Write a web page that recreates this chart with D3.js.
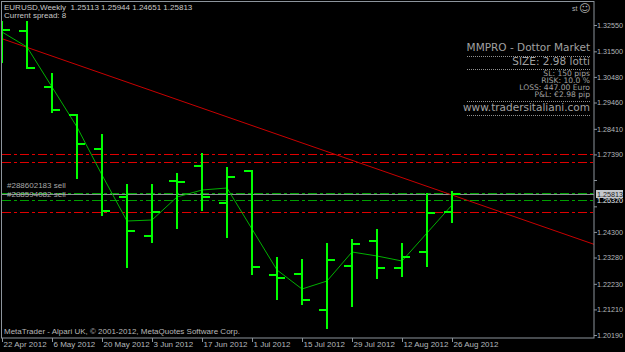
<!DOCTYPE html>
<html>
<head>
<meta charset="utf-8">
<script src="https://cdn.jsdelivr.net/npm/d3@7"></script>
<style>
html, body { margin: 0; padding: 0; background: #000; }
svg { display: block; font-family: "Liberation Sans", Arial, sans-serif; }
</style>
</head>
<body>
<svg id="chart" width="625" height="352"></svg>
<script>
// weekly EURUSD bars
const weeks = ["22 Apr 2012", "29 Apr 2012", "6 May 2012", "13 May 2012", "20 May 2012",
    "27 May 2012", "3 Jun 2012", "10 Jun 2012", "17 Jun 2012", "24 Jun 2012", "1 Jul 2012",
    "8 Jul 2012", "15 Jul 2012", "22 Jul 2012", "29 Jul 2012", "5 Aug 2012", "12 Aug 2012",
    "19 Aug 2012", "26 Aug 2012"];
const openP  = [1.31753, 1.32311, 1.30078, 1.28962, 1.27606, 1.25692, 1.24137, 1.26330, 1.26928, 1.25453,
    1.26729, 1.22582, 1.22622, 1.21187, 1.22941, 1.23938, 1.22861, 1.23499, 1.25113];
const highP  = [1.32709, 1.32709, 1.30636, 1.29002, 1.28204, 1.26211, 1.26211, 1.26649, 1.27447, 1.26888,
    1.26769, 1.23300, 1.23220, 1.23858, 1.24018, 1.24416, 1.23858, 1.25852, 1.25944];
const lowP   = [1.31035, 1.30796, 1.29041, 1.26410, 1.24935, 1.22861, 1.23858, 1.24416, 1.25134, 1.24057,
    1.22582, 1.21585, 1.21386, 1.20429, 1.21306, 1.22423, 1.22503, 1.22901, 1.24651];
const closeP = [1.32351, 1.30836, 1.29161, 1.27805, 1.25134, 1.24337, 1.25094, 1.26290, 1.25692, 1.26490,
    1.22901, 1.22463, 1.21585, 1.23180, 1.23818, 1.22861, 1.23300, 1.25054, 1.25813];
// thin green indicator line
const lineValues = [1.32271, 1.31673, 1.30078, 1.28483, 1.26569, 1.24735, 1.24775, 1.25692, 1.25971, 1.26051,
    1.24416, 1.22782, 1.22024, 1.22343, 1.23499, 1.23340, 1.23140, 1.24257, 1.25373];
// trendline anchors: [bar index, price]
const trendA = [0, 1.32004];
const trendB = [18, 1.25772];
const redLevels = [1.27387, 1.27068, 1.25082];
const greenLevels = [1.25864, 1.25584];
const orderLabels = ["#288602183 sell", "#288594082 sell"];
const priceTicks = [1.20190, 1.21210, 1.22230, 1.23280, 1.24300, 1.25320, 1.26370,
    1.27390, 1.28410, 1.29460, 1.30480, 1.31500, 1.32550];
const infoBig = ["MMPRO - Dottor Market", "SIZE: 2.98 lotti"];
const infoSmall = ["SL: 150 pips", "RISK: 10.0 %", "LOSS: 447.00 Euro", "P&L: \u20ac2.98 pip"];
const infoSite = "www.tradersitaliani.com";

const svg = d3.select("#chart");
const plot = {left: 2, right: 594, top: 2, bottom: 338};

const x = d3.scaleLinear().domain([0, weeks.length - 1]).range([2, 452]);
const y = d3.scaleLinear().domain([1.20190, 1.32550]).range([335, 25]);

svg.append("rect").attr("width", 625).attr("height", 352).attr("fill", "#000");

svg.append("defs").append("clipPath").attr("id", "clip")
    .append("rect")
    .attr("x", plot.left).attr("y", plot.top)
    .attr("width", plot.right - plot.left).attr("height", plot.bottom - plot.top);

const g = svg.append("g").attr("clip-path", "url(#clip)");

// horizontal levels
const hline = (p, color, dash) => g.append("line")
    .attr("x1", plot.left).attr("x2", plot.right)
    .attr("y1", Math.round(y(p)) + 0.5).attr("y2", Math.round(y(p)) + 0.5)
    .attr("stroke", color).attr("stroke-width", 1)
    .attr("stroke-dasharray", dash);

redLevels.forEach(p => hline(p, "#e00000", "9,3,3,3"));
greenLevels.forEach(p => hline(p, "#00a000", "9,3,3,3"));
hline(closeP[closeP.length - 1], "#8c9096", null);

// trendline extended to both edges
const slope = (trendB[1] - trendA[1]) / (trendB[0] - trendA[0]);
const tAt = i => trendA[1] + slope * (i - trendA[0]);
const i0 = x.invert(plot.left), i1 = x.invert(plot.right);
g.append("line")
    .attr("x1", plot.left).attr("y1", y(tAt(i0)))
    .attr("x2", plot.right).attr("y2", y(tAt(i1)))
    .attr("stroke", "#c80000").attr("stroke-width", 1);

// indicator line
g.append("path")
    .datum(lineValues)
    .attr("d", d3.line().x((d, i) => x(i)).y(d => y(d)))
    .attr("fill", "none")
    .attr("stroke", "#00b000")
    .attr("stroke-width", 1);

// OHLC bars
const bars = g.selectAll("g.bar").data(weeks).enter().append("g").attr("class", "bar")
    .attr("stroke", "#00ff00").attr("stroke-width", 2).attr("shape-rendering", "crispEdges");
bars.append("line")
    .attr("x1", (d, i) => x(i)).attr("x2", (d, i) => x(i))
    .attr("y1", (d, i) => Math.round(y(highP[i]))).attr("y2", (d, i) => Math.round(y(lowP[i])));
bars.append("line")
    .attr("x1", (d, i) => x(i) - 8).attr("x2", (d, i) => x(i))
    .attr("y1", (d, i) => Math.round(y(openP[i]))).attr("y2", (d, i) => Math.round(y(openP[i])));
bars.append("line")
    .attr("x1", (d, i) => x(i)).attr("x2", (d, i) => x(i) + 8)
    .attr("y1", (d, i) => Math.round(y(closeP[i]))).attr("y2", (d, i) => Math.round(y(closeP[i])));

// order labels above the green levels
greenLevels.forEach((p, k) => {
    svg.append("text")
        .attr("x", 7).attr("y", y(p) - 5 + k * 2)
        .attr("font-size", 8).attr("fill", "#a8a8a8")
        .text(orderLabels[k]);
});

// frame
svg.append("rect")
    .attr("x", plot.left - 0.5).attr("y", plot.top - 0.5)
    .attr("width", plot.right - plot.left + 0.5).attr("height", plot.bottom - plot.top + 0.5)
    .attr("fill", "none").attr("stroke", "#8c949c").attr("stroke-width", 1);

// right price axis
const bid = closeP[closeP.length - 1];
const yAxis = svg.append("g")
    .attr("transform", "translate(" + (plot.right) + ",0)")
    .call(d3.axisRight(y).tickValues(priceTicks).tickSize(3).tickPadding(0).tickFormat(d3.format(".5f")));
yAxis.select(".domain").remove();
yAxis.selectAll("line").attr("stroke", "#8c949c");
yAxis.selectAll("text")
    .attr("fill", "#b4b8bc").attr("font-size", 7.2)
    .attr("font-family", "Liberation Sans, Arial, sans-serif")
    .attr("transform", d => Math.abs(y(d) - y(bid)) < 14 ? "translate(0," + (y(bid) + 6 - y(d)) + ")" : null);

// bid box
const bidG = svg.append("g").attr("transform", "translate(" + (plot.right + 2) + "," + Math.round(y(bid)) + ")");
bidG.append("rect").attr("x", 0).attr("y", -4).attr("width", 27).attr("height", 8).attr("fill", "#c4c8cc");
bidG.append("text").attr("x", 1).attr("y", 2.7).attr("font-size", 7.2).attr("fill", "#202020")
    .text(d3.format(".5f")(bid));

// bottom time axis
const xAxis = svg.append("g")
    .attr("transform", "translate(0," + plot.bottom + ")")
    .call(d3.axisBottom(x).tickValues(d3.range(0, weeks.length, 2)).tickSize(4).tickFormat(i => weeks[i]));
xAxis.select(".domain").remove();
xAxis.selectAll("line").attr("stroke", "#8c949c");
xAxis.selectAll("text")
    .attr("fill", "#b4b8bc").attr("font-size", 8)
    .attr("font-family", "Liberation Sans, Arial, sans-serif")
    .attr("text-anchor", "start").attr("x", 1).attr("y", 9).attr("dy", 0);

// header texts
svg.append("text").attr("x", 4).attr("y", 10).attr("font-size", 8).attr("fill", "#c8c8c8")
    .attr("xml:space", "preserve")
    .text("EURUSD,Weekly  " + [openP, highP, lowP, closeP].map(a => d3.format(".5f")(a[a.length - 1])).join(" "));
svg.append("text").attr("x", 4).attr("y", 18).attr("font-size", 8).attr("fill", "#c8c8c8")
    .text("Current spread: 8");
svg.append("text").attr("x", 572).attr("y", 11).attr("font-size", 7).attr("fill", "#b0b0b0").text("st");
svg.append("text").attr("x", 579).attr("y", 12).attr("font-size", 11).attr("fill", "#b0b0b0")
    .attr("font-family", "DejaVu Sans").text("\u263a");

svg.append("text").attr("x", 4).attr("y", 334).attr("font-size", 8).attr("fill", "#b8b8b8")
    .text("MetaTrader - Alpari UK, \u00a9 2001-2012, MetaQuotes Software Corp.");

// info panel
const info = svg.append("g").attr("fill", "#a0a0a0").attr("text-anchor", "end")
    .attr("font-family", "DejaVu Sans, sans-serif");
const dotted = yy => svg.append("line").attr("x1", 467).attr("x2", 590)
    .attr("y1", yy + 0.5).attr("y2", yy + 0.5)
    .attr("stroke", "#909090").attr("stroke-dasharray", "1,1");
info.append("text").attr("x", 590).attr("y", 51).attr("font-size", 10.5).text(infoBig[0]);
dotted(56);
info.append("text").attr("x", 590).attr("y", 65).attr("font-size", 10.5).text(infoBig[1]);
dotted(69);
infoSmall.forEach((t, k) => {
    info.append("text").attr("x", 590).attr("y", 76 + k * 7).attr("font-size", 7.6).text(t);
});
dotted(101);
info.append("text").attr("x", 590).attr("y", 111).attr("font-size", 10.5).text(infoSite);
dotted(115);
</script>
</body>
</html>
